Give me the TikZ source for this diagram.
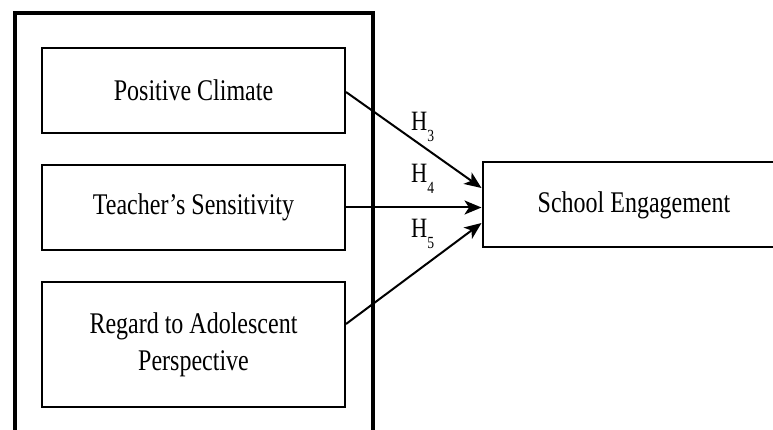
\documentclass[tikz,border=0pt]{standalone}
\usepackage{fontspec}
\setmainfont[FakeStretch=0.8]{Liberation Serif}
\usetikzlibrary{positioning,arrows.meta}
\newcommand{\hsub}[1]{\raisebox{-11pt}{\fontsize{17}{17}\selectfont #1}}

\begin{document}
\begin{tikzpicture}[x=1pt, y=-1pt,
  box/.style={draw, line width=2pt, minimum width=303pt, minimum height=85pt,
    inner sep=0pt, align=center, font=\fontsize{30}{37}\selectfont},
  path/.style={line width=2pt, -{Stealth[length=17pt,width=14pt,inset=4.5pt]}},
  hyp/.style={anchor=base west, inner sep=0pt, font=\fontsize{28}{28}\selectfont}]
  \useasboundingbox (0,0) rectangle (773,430);
  \clip (0,0) rectangle (773,430);
  % Frame round the predictors
  \draw[line width=3.5pt] (15,445) -- (15,13) -- (373,13) -- (373,445);
  % Predictors
  \node[box] (pc) at (193.5,90.5) {Positive Climate};
  \node[box, below=30pt of pc] (ts) {Teacher's Sensitivity};
  \node[box, below=30pt of ts, minimum height=125pt] (ra) {Regard to Adolescent\\Perspective};
  % Outcome
  \node[box] (se) at (634,205) {School Engagement};
  % Paths
  \draw[path] ([yshift=-1.5pt]pc.east) -- ([yshift=17pt]se.west);
  \draw[path] (ts.east) -- (ts.east -| se.west);
  \draw[path] ([yshift=20.5pt]ra.east) -- ([yshift=-18pt]se.west);
  % Hypotheses
  \node[hyp] (h3) at (411,131) {H\hsub{3}};
  \node[hyp] (h4) at (411,183) {H\hsub{4}};
  \node[hyp] (h5) at (411,237) {H\hsub{5}};
\end{tikzpicture}
\end{document}
